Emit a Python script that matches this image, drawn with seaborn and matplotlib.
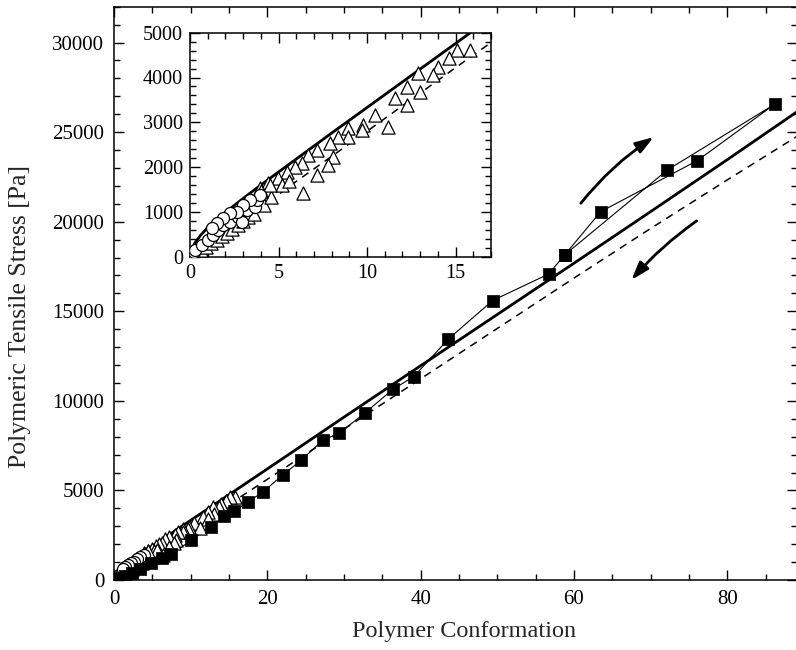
import matplotlib
matplotlib.use("Agg")
import matplotlib.pyplot as plt
from matplotlib.ticker import MultipleLocator
import seaborn as sns
import pandas as pd

# ---------------- data ----------------
# solid model curve
solid_x = [0, 0.1, 0.3, 0.6, 1.0, 1.5, 2, 3, 4, 6, 8, 10, 15, 20, 30, 40, 50, 60, 70, 80, 90]
solid_y = [0, 170, 320, 480, 650, 830, 990, 1300, 1600, 2180, 2760, 3330, 4760, 6200,
           9090, 11960, 14820, 17680, 20560, 23460, 26400]
# dashed model curve
dash_x = [0, 1, 2, 4, 6, 10, 15, 20, 30, 40, 50, 60, 70, 80, 90]
dash_y = [0, 250, 530, 1100, 1680, 2800, 4220, 5620, 8420, 11230, 14040, 16850, 19620, 22330, 25000]

# filled squares (measurement order: loading then unloading)
sq_x = [0.3, 0.8, 1.5, 2.4, 3.4, 4.8, 6.2, 7.5, 10.1, 12.6, 14.35, 15.7, 17.5, 19.4, 22.0,
        24.4, 27.3, 29.35, 32.7, 36.4, 39.1, 43.6, 49.4, 56.7, 58.8, 63.5, 76.1, 86.2, 72.2, 58.8]
sq_y = [30, 110, 230, 400, 620, 950, 1230, 1450, 2230, 2980, 3570, 3850, 4370, 4900, 5860,
        6680, 7820, 8190, 9310, 10650, 11350, 13440, 15600, 17080, 18150, 20560, 23410, 26560,
        22890, 18150]

# open triangles
tri_x = [15.8, 15.07, 14.6, 14.0, 13.75, 12.9, 13.0, 12.24, 11.58, 12.24, 10.45, 11.2, 9.79,
         9.7, 8.94, 8.94, 8.38, 7.9, 7.16, 8.1, 6.68, 7.81, 6.31, 7.16, 5.93, 5.46, 4.99, 4.42,
         6.4, 3.95, 0.3, 0.6, 0.9, 1.2, 1.5, 1.8, 2.1, 2.4, 2.7, 3.0, 3.3, 3.6, 4.2, 4.6, 5.2,
         5.6, 4.0, 4.5, 3.5]
tri_y = [4614, 4614, 4428, 4241, 4056, 4094, 3683, 3795, 3536, 3386, 3163, 2888, 2940, 2828,
         2866, 2679, 2679, 2531, 2382, 2232, 2270, 2047, 2085, 1824, 2009, 1897, 1750, 1638,
         1415, 1527, 60, 140, 220, 300, 380, 460, 540, 620, 700, 790, 880, 960, 1150, 1330,
         1600, 1700, 1460, 1600, 1250]

# open circles
circ_x = [0.1, 0.2, 0.28, 0.66, 1.03, 1.32, 1.6, 1.88, 2.26, 2.73, 2.92, 3.2, 3.67, 3.77, 3.95,
          3.39, 3.0, 2.64, 2.26, 1.88, 1.5, 1.22]
circ_y = [50, 100, 149, 261, 372, 484, 596, 707, 781, 893, 781, 1042, 1116, 1265, 1377,
          1265, 1154, 1005, 968, 857, 745, 634]

main_xticks = [0, 20, 40, 60, 80]
main_yticks = [0, 5000, 10000, 15000, 20000, 25000, 30000]
inset_xticks = [0, 5, 10, 15]
inset_yticks = [0, 1000, 2000, 3000, 4000, 5000]

# ---------------- style ----------------
sns.set_theme(style="ticks")
plt.rcParams["font.family"] = ["Liberation Serif", "DejaVu Serif"]

df_solid = pd.DataFrame({"x": solid_x, "y": solid_y})
df_dash = pd.DataFrame({"x": dash_x, "y": dash_y})
df_sq = pd.DataFrame({"x": sq_x, "y": sq_y})
df_tri = pd.DataFrame({"x": tri_x, "y": tri_y})
df_circ = pd.DataFrame({"x": circ_x, "y": circ_y})

fig = plt.figure(figsize=(7.96, 6.5), dpi=100)
ax = fig.add_axes([114 / 796, 70 / 650, 683 / 796, 573.3 / 650])


def style_axes(a, xmaj, xmin, ymaj, ymin, fs):
    a.xaxis.set_major_locator(MultipleLocator(xmaj))
    a.xaxis.set_minor_locator(MultipleLocator(xmin))
    a.yaxis.set_major_locator(MultipleLocator(ymaj))
    a.yaxis.set_minor_locator(MultipleLocator(ymin))
    a.tick_params(which="both", direction="in", top=True, right=True,
                  colors="black", width=1.0, labelsize=fs, pad=7)
    a.tick_params(which="major", length=7)
    a.tick_params(which="minor", length=4)
    for s in a.spines.values():
        s.set_linewidth(1.1)
        s.set_color("black")
    a.grid(False)
    a.set_facecolor("white")


def draw_data(a, with_squares):
    sns.lineplot(data=df_solid, x="x", y="y", ax=a, color="black", lw=2.0, sort=False,
                 estimator=None)
    sns.lineplot(data=df_dash, x="x", y="y", ax=a, color="black", lw=1.1, sort=False,
                 estimator=None, dashes=False, linestyle=(0, (5, 4)))
    if with_squares:
        sns.lineplot(data=df_sq, x="x", y="y", ax=a, color="black", lw=0.8, sort=False,
                     estimator=None)
        sns.scatterplot(data=df_sq, x="x", y="y", ax=a, marker="s", s=65, color="black",
                        edgecolor="black", linewidth=0.5, zorder=5)
    sns.scatterplot(data=df_tri, x="x", y="y", ax=a, marker="^", s=90, facecolor="white",
                    edgecolor="black", linewidth=0.9, zorder=4)
    sns.scatterplot(data=df_circ, x="x", y="y", ax=a, marker="o", s=75, facecolor="white",
                    edgecolor="black", linewidth=0.9, zorder=4)


draw_data(ax, True)
style_axes(ax, 20, 5, 5000, 1000, 15)
ax.set_xlim(0, 89.1)
ax.set_ylim(0, 32000)
ax.set_xticks(main_xticks)
ax.set_yticks(main_yticks)
ax.set_xlabel("Polymer Conformation", fontsize=17.5)
ax.set_ylabel("Polymeric Tensile Stress [Pa]", fontsize=18.5)
ax.xaxis.set_label_coords(0.512, -0.072)
ax.yaxis.set_label_coords(-0.121, 0.459)

# hysteresis arrows
ax.annotate("", xy=(70.4, 24716), xytext=(60.9, 21030),
            arrowprops=dict(arrowstyle="-|>,head_length=0.9,head_width=0.3", lw=2.0,
                            color="black", connectionstyle="arc3,rad=-0.08",
                            shrinkA=0, shrinkB=0))
ax.annotate("", xy=(67.5, 16750), xytext=(76.0, 20043),
            arrowprops=dict(arrowstyle="-|>,head_length=0.9,head_width=0.3", lw=2.0,
                            color="black", connectionstyle="arc3,rad=0.06",
                            shrinkA=0, shrinkB=0))

# inset
axin = fig.add_axes([190 / 796, (650 - 256.7) / 650, 301 / 796, 224 / 650])
draw_data(axin, False)
style_axes(axin, 5, 1, 1000, 200, 14.5)
axin.tick_params(pad=5)
axin.set_xlim(0, 17)
axin.set_ylim(0, 5000)
axin.set_xticks(inset_xticks)
axin.set_yticks(inset_yticks)
axin.set_xlabel("")
axin.set_ylabel("")

fig.savefig("out.png", dpi=100, facecolor="white")
